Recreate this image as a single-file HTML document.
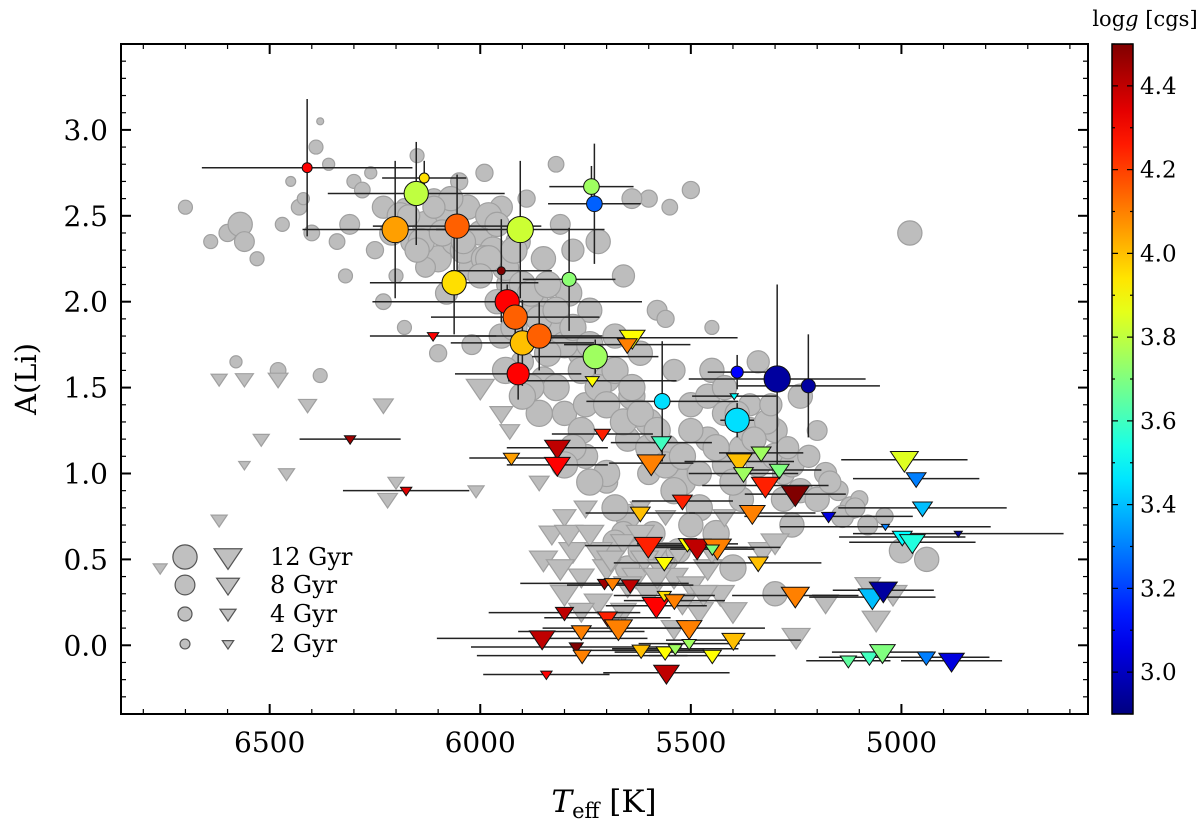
<!DOCTYPE html>
<html><head><meta charset="utf-8"><style>
body{margin:0;background:#fff}
svg{font-family:"DejaVu Serif","Liberation Serif",serif}
</style></head><body>
<svg id="c" width="1200" height="826" viewBox="0 0 1200 826" xmlns="http://www.w3.org/2000/svg">
<g id="gray"></g>
<g id="err"></g>
<g id="col"></g>
<rect x="121" y="44" width="967" height="670" fill="none" stroke="#000" stroke-width="2"/>
<g id="axes"></g>
<g id="legend"></g>
<g id="cbar"></g>
<text x="36" y="379" font-size="29" text-anchor="middle" transform="rotate(-90 36 379)">A(Li)</text>
<text x="604" y="812" font-size="31" text-anchor="middle"><tspan font-style="italic">T</tspan><tspan font-size="21" dy="6">eff</tspan><tspan dy="-6"> [K]</tspan></text>
<text x="1145" y="26" font-size="21" text-anchor="middle">log<tspan font-style="italic">g</tspan> [cgs]</text>
</svg>
<script>
const xTicks=[6500,6000,5500,5000];
const yTicks=[0.0,0.5,1.0,1.5,2.0,2.5,3.0];
const cTicks=[3.0,3.2,3.4,3.6,3.8,4.0,4.2,4.4];
const legendAges=[12,8,4,2];
// gray circles: Teff, A(Li), age
const grayCT=[6700,6640,6600,6570,6560,6530,6470,6450,6430,6420,6400,6390,6380,6360,6340,6320,6310,6300,6280,6260,6250,6230,6210,6200,6180,6160,6150,6130,6110,6100,6080,6060,6050,6030,6020,6000,5990,5970,5950,5930,5910,5890,5870,5850,5830,5810,5790,5780,5760,5740,5720,5700,5680,5660,5640,5620,5600,5600,5580,5560,5540,5520,5500,5480,5460,5440,5420,5400,5380,5360,5340,5300,5280,5260,5240,5200,5180,5150,5120,5100,5080,5040,4980,5000,4940,5300,5500,5650,5700,5750,5800,5850,5900,5950,5750,5650,5600,6020,6100,6180,6230,6480,6580,6380,5450,5560,5550,5500,5640,5820,5980,6080,6130,
6190,6140,6090,6040,5990,5960,5940,5920,5900,5880,5860,5840,5820,5800,5780,5760,5740,5720,5700,5680,5660,5640,5620,5600,5580,5560,5540,5520,5500,5480,5460,5440,5420,5400,5380,5360,5340,5320,5300,5280,5260,5240,5220,5200,5170,5140,5110,5700,5680,5660,5740,5760,5780,5800,5820,5840,5860,5880,5900,5920,5940,5960,5980,6000,6040,6070,6110,6150,6170,5680,5650,5620,5590,5560,5530,5450,5420,5390,5350,5310,5270];
const grayCA=[2.55,2.35,2.40,2.45,2.35,2.25,2.45,2.70,2.55,2.60,2.40,2.90,3.05,2.80,2.35,2.15,2.45,2.70,2.65,2.75,2.30,2.55,2.40,2.15,2.55,2.35,2.85,2.45,2.60,2.25,2.50,2.35,2.70,2.55,2.20,2.40,2.75,2.30,2.55,2.10,2.35,2.60,2.00,2.25,1.85,2.45,2.05,2.30,1.70,1.95,2.35,1.55,1.80,2.15,1.45,1.70,2.60,1.30,1.95,1.15,1.60,0.95,1.40,0.80,1.20,0.65,1.05,0.45,0.85,1.40,1.65,1.25,1.00,0.70,1.45,1.25,1.00,0.90,0.80,0.85,0.70,0.75,2.40,0.55,0.50,0.30,0.70,0.75,0.95,1.10,1.35,1.55,1.65,1.80,1.40,1.20,1.00,1.75,1.70,1.85,2.00,1.60,1.65,1.57,1.85,1.90,2.55,2.65,2.60,2.80,2.50,2.05,2.20,
2.50,2.35,2.40,2.30,2.25,2.45,2.20,2.30,2.10,2.05,1.90,2.10,1.95,1.75,1.85,1.60,1.75,1.50,1.40,1.60,1.30,1.50,1.35,1.15,1.25,1.05,0.90,1.10,1.25,1.00,1.45,1.15,1.35,0.95,1.15,1.25,1.05,1.30,1.10,0.85,1.05,0.90,1.10,0.85,0.95,0.75,0.80,1.00,0.80,0.65,0.95,1.25,1.15,1.05,1.50,1.70,1.35,1.50,1.45,1.85,1.60,2.00,2.25,2.15,2.35,2.60,2.55,2.30,2.50,0.60,0.45,0.55,0.65,0.50,0.55,1.60,1.50,1.35,1.20,1.40,1.15];
const grayCAge=[4,4,6,12,8,4,4,2,5,3,5,4,1,3,5,4,8,4,5,3,6,10,12,4,6,12,4,14,8,14,10,14,6,12,14,12,6,14,10,14,12,6,14,12,14,8,14,10,14,12,12,14,12,10,14,12,6,14,8,14,10,14,12,14,12,14,12,14,12,10,10,12,10,12,12,8,10,8,10,6,8,6,12,12,12,12,12,12,10,12,12,12,10,12,12,12,10,8,6,4,5,5,3,4,4,6,5,6,8,5,14,10,8,
14,14,14,14,14,12,14,14,14,14,14,14,14,14,14,14,14,14,14,14,14,14,14,14,14,14,14,14,12,12,12,14,12,14,12,14,12,12,14,12,12,12,10,12,10,10,8,14,14,12,14,14,14,14,14,14,14,14,14,14,14,12,14,12,12,12,10,12,10,12,12,12,12,12,12,12,12,12,12,10,10];
// gray triangles (upper limits)
const grayTT=[6620,6560,6520,6480,6460,6560,6620,6760,6410,6220,6200,6230,6010,6000,5950,5930,5860,5800,5750,5830,5780,5720,5700,5660,5630,5600,5760,5800,5720,5660,5580,5540,5500,5460,5430,5480,5400,5330,5300,5180,5080,5020,5060,5250,5420,5560,5620,
5850,5810,5790,5740,5690,5650,5610,5570,5530,5520,5470,5450,5690,5760,5620,5580,5540];
const grayTA=[1.55,1.55,1.20,1.55,1.00,1.05,0.73,0.45,1.40,0.85,0.95,1.40,0.90,1.50,1.35,1.25,0.95,0.75,0.80,0.65,0.55,0.55,0.45,0.60,0.40,0.30,0.40,0.30,0.25,0.20,0.55,0.40,0.35,0.45,0.30,0.20,0.20,0.55,0.60,0.25,0.35,0.30,0.15,0.05,0.75,0.75,0.80,
0.50,0.45,0.65,0.65,0.50,0.35,0.50,0.45,0.55,0.25,0.30,0.55,0.15,0.20,0.65,0.40,0.10];
const grayTAge=[4,5,4,6,4,2,4,3,5,6,4,6,4,12,8,6,6,8,8,10,12,12,12,10,12,12,10,12,12,10,12,12,12,12,12,12,12,12,12,10,10,12,12,12,8,6,6,
12,12,12,12,12,12,12,12,12,12,12,12,10,10,12,12,10];
// colored circles (detections)
const detT=[6411,6133,6152,6202,6055,5905,5736,5729,6062,5950,5789,5936,5917,5900,5860,5910,5727,5568,5390,5390,5295,5221];
const detA=[2.78,2.72,2.63,2.42,2.44,2.42,2.67,2.57,2.11,2.18,2.13,2.00,1.91,1.76,1.80,1.58,1.68,1.42,1.31,1.59,1.55,1.51];
const detAge=[2,2,12,14,12,14,5,5,12,1.3,4,12,12,12,12,10,12,5,12,3,14,4];
const detG=[4.3,3.95,3.8,4.05,4.15,3.82,3.75,3.25,3.95,4.5,3.72,4.3,4.15,4.0,4.15,4.3,3.75,3.45,3.45,3.1,2.95,2.95];
const detXE=[250,100,210,220,200,200,100,110,200,120,110,320,200,170,150,150,150,180,40,70,210,170];
const detYE=[0.4,0.1,0.3,0.4,0.3,0.4,0.12,0.35,0.3,0.3,0.3,0.1,0.12,0.25,0.2,0.15,0.1,0.35,0.1,0.1,0.55,0.3];
// colored triangles (upper limits)
const limT=[6112,6309,6176,5639,5651,5734,5397,5710,5817,5817,5926,5570,5594,5385,5333,5375,5290,5323,5252,5520,5620,5354,5173,4993,4965,4950,5038,4865,4998,4974,5601,5508,5485,5437,5449,5563,5340,5252,5069,5043,5705,5686,5644,5582,5563,5539,5800,5698,5672,5504,5760,5853,5772,5758,5618,5561,5537,5504,5399,5449,5558,5843,5126,5076,5045,4941,4881];
const limA=[1.80,1.20,0.90,1.79,1.75,1.54,1.45,1.23,1.15,1.05,1.09,1.18,1.06,1.07,1.12,1.00,1.02,0.93,0.88,0.84,0.77,0.77,0.75,1.08,0.97,0.80,0.69,0.65,0.63,0.60,0.58,0.59,0.57,0.57,0.56,0.48,0.48,0.29,0.28,0.32,0.36,0.36,0.35,0.23,0.29,0.26,0.19,0.16,0.10,0.10,0.08,0.04,-0.01,-0.06,-0.03,-0.04,-0.02,0.01,0.03,-0.06,-0.16,-0.17,-0.09,-0.07,-0.04,-0.07,-0.09];
const limAge=[2,2,2,10,6,3,1,4,10,10,4,6,12,10,6,6,6,12,12,6,6,10,3,12,6,6,1,1,6,10,12,5,12,12,3,5,6,12,12,12,3,4,5,12,3,6,5,6,12,10,6,10,3,5,5,5,3,3,8,5,10,2,4,5,10,5,10];
const limG=[4.3,4.45,4.35,3.9,4.1,3.9,3.5,4.25,4.4,4.3,4.05,3.6,4.1,4.0,3.75,3.75,3.7,4.25,4.5,4.25,4.0,4.1,3.05,3.85,3.3,3.4,3.3,2.95,3.5,3.55,4.25,3.9,4.4,4.1,3.7,3.9,4.0,4.1,3.4,2.95,4.45,4.1,4.4,4.3,3.95,4.1,4.4,4.25,4.1,4.1,4.1,4.4,4.5,4.1,4.0,3.9,3.75,3.75,4.0,3.9,4.4,4.3,3.65,3.6,3.7,3.3,3.05];
const limXE=[150,120,150,250,150,200,100,120,120,120,100,120,100,130,100,130,100,150,120,120,130,150,200,150,150,200,250,250,150,150,150,120,120,150,100,120,150,150,150,120,200,150,150,120,120,120,180,150,180,180,150,250,250,250,150,120,150,120,160,150,150,150,100,120,120,150,120];

const NS='http://www.w3.org/2000/svg';
const X0=121,X1=1088,Y0=44,Y1=714;
const TMIN=4557,TMAX=6853,AMIN=-0.40,AMAX=3.50,GMIN=2.9,GMAX=4.5;
const sx=t=>X0+(TMAX-t)/(TMAX-TMIN)*(X1-X0);
const sy=a=>Y1-(a-AMIN)/(AMAX-AMIN)*(Y1-Y0);
const rad=age=>3.5*Math.sqrt(age);
function jet(v){v=Math.max(0,Math.min(1,v));
 const f=(x)=>Math.max(0,Math.min(1,1.5-Math.abs(4*v-x)));
 return `rgb(${Math.round(255*f(3))},${Math.round(255*f(2))},${Math.round(255*f(1))})`;}
const gc=g=>jet((g-GMIN)/(GMAX-GMIN));
function el(tag,attrs,parent){const e=document.createElementNS(NS,tag);for(const k in attrs)e.setAttribute(k,attrs[k]);parent.appendChild(e);return e;}
function tri(cx,cy,r){const w=r*1.15,h=r*1.7;return `${cx-w},${cy-h*0.4} ${cx+w},${cy-h*0.4} ${cx},${cy+h*0.6}`;}
const gray=document.getElementById('gray'),err=document.getElementById('err'),col=document.getElementById('col');
grayCT.forEach((t,i)=>{const e=el('circle',{cx:sx(t),cy:sy(grayCA[i]),r:rad(grayCAge[i]),fill:'#bdbdbd',stroke:'#a0a0a0','stroke-width':1.2},gray);

});
grayTT.forEach((t,i)=>{const e=el('polygon',{points:tri(sx(t),sy(grayTA[i]),rad(grayTAge[i])),fill:'#bdbdbd',stroke:'#a0a0a0','stroke-width':1.2},gray);

});
detT.forEach((t,i)=>{const x=sx(t),y=sy(detA[i]);
const h=el('line',{x1:sx(t+detXE[i]),x2:sx(t-detXE[i]),y1:y,y2:y,stroke:'#222','stroke-width':1.5},err);


const v=el('line',{x1:x,x2:x,y1:sy(detA[i]+detYE[i]),y2:sy(detA[i]-detYE[i]),stroke:'#222','stroke-width':1.5},err);

});
limT.forEach((t,i)=>{const y=sy(limA[i]);
const h=el('line',{x1:sx(t+limXE[i]),x2:sx(t-limXE[i]),y1:y,y2:y,stroke:'#222','stroke-width':1.5},err);

});
limT.forEach((t,i)=>{const e=el('polygon',{points:tri(sx(t),sy(limA[i]),rad(limAge[i])),fill:gc(limG[i]),stroke:'#111','stroke-width':1},col);

});
detT.forEach((t,i)=>{const e=el('circle',{cx:sx(t),cy:sy(detA[i]),r:rad(detAge[i]),fill:gc(detG[i]),stroke:'#111','stroke-width':1},col);

});
// axes
const ax=document.getElementById('axes');
for(let t=4600;t<=6800;t+=100){const x=sx(t),maj=t%500===0,L=maj?10:5;
el('line',{x1:x,x2:x,y1:Y1,y2:Y1-L,stroke:'#000','stroke-width':maj?2:1.2},ax);
el('line',{x1:x,x2:x,y1:Y0,y2:Y0+L,stroke:'#000','stroke-width':maj?2:1.2},ax);}
xTicks.forEach(t=>{const e=el('text',{x:sx(t),y:752,'font-size':28,'text-anchor':'middle'},ax);e.textContent=t;

});
for(let k=-3;k<=34;k++){const a=k/10,y=sy(a),maj=k%5===0,L=maj?10:5;
el('line',{x1:X0,x2:X0+L,y1:y,y2:y,stroke:'#000','stroke-width':maj?2:1.2},ax);
el('line',{x1:X1,x2:X1-L,y1:y,y2:y,stroke:'#000','stroke-width':maj?2:1.2},ax);}
yTicks.forEach(a=>{const e=el('text',{x:108,y:sy(a)+10,'font-size':28,'text-anchor':'end'},ax);e.textContent=a.toFixed(1);

});
// legend
const lg=document.getElementById('legend');
legendAges.forEach((ag,i)=>{const y=[557,585,614,644][i],r=rad(ag);
const c=el('circle',{cx:185,cy:y,r:r,fill:'#c0c0c0',stroke:'#555','stroke-width':1.2},lg);


const p=el('polygon',{points:tri(228,y,r),fill:'#c0c0c0',stroke:'#555','stroke-width':1.2},lg);


const tx=el('text',{x:270,y:y+8,'font-size':24},lg);tx.textContent=ag+' Gyr';

});
// colorbar
const cb=document.getElementById('cbar');
const defs=el('defs',{},cb);const gr=el('linearGradient',{id:'jg',x1:0,y1:1,x2:0,y2:0},defs);
for(let i=0;i<=20;i++)el('stop',{offset:i/20,'stop-color':jet(i/20)},gr);
const CB0=1112,CB1=1133;
const cr=el('rect',{x:CB0,y:Y0,width:CB1-CB0,height:Y1-Y0,fill:'url(#jg)',stroke:'#000','stroke-width':1.5},cb);


const cy=g=>Y1-(g-GMIN)/(GMAX-GMIN)*(Y1-Y0);
for(let k=29;k<=45;k++){const g=k/10,y=cy(g),maj=k%2===0,L=maj?6:3;
el('line',{x1:CB0,x2:CB0+L,y1:y,y2:y,stroke:'#000','stroke-width':1.2},cb);
el('line',{x1:CB1,x2:CB1-L,y1:y,y2:y,stroke:'#000','stroke-width':1.2},cb);}
cTicks.forEach(g=>{const e=el('text',{x:1140,y:cy(g)+8,'font-size':23},cb);e.textContent=g.toFixed(1);

});
</script>
</body></html>
